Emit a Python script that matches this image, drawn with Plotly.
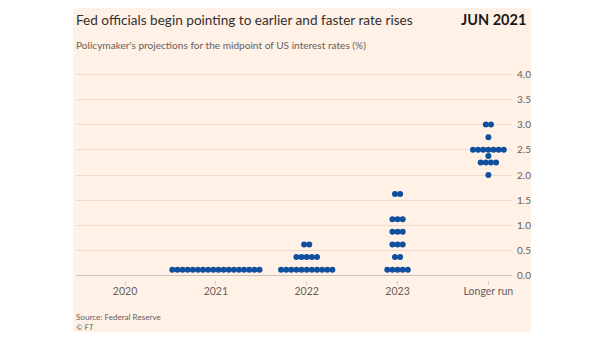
import plotly.graph_objects as go

# ---- data ----
years = ["2020", "2021", "2022", "2023", "Longer run"]
levels_2021 = [0.125]
counts_2021 = [18]
levels_2022 = [0.125, 0.375, 0.625]
counts_2022 = [11, 5, 2]
levels_2023 = [0.125, 0.375, 0.625, 0.875, 1.125, 1.625]
counts_2023 = [5, 2, 3, 3, 3, 2]
levels_lr = [2.0, 2.25, 2.375, 2.5, 2.75, 3.0]
counts_lr = [1, 4, 1, 7, 1, 2]
y_ticks = [0.0, 0.5, 1.0, 1.5, 2.0, 2.5, 3.0, 3.5, 4.0]

groups = [
    (1, levels_2021, counts_2021),
    (2, levels_2022, counts_2022),
    (3, levels_2023, counts_2023),
    (4, levels_lr, counts_lr),
]

# ---- layout geometry (pixels) ----
W, H = 605, 341
PL, PR, PT, PB = 76, 512, 70, 280
DOT_STEP = 0.0565  # horizontal spacing between stacked dots in category units

xs, ys = [], []
for xpos, levels, counts in groups:
    for lvl, n in zip(levels, counts):
        for i in range(n):
            xs.append(xpos + (i - (n - 1) / 2) * DOT_STEP)
            ys.append(lvl)

def px_x(p):
    return (p - PL) / (PR - PL)

def px_y(p):
    return (PB - p) / (PB - PT)

FONT = "Lato"
PEACH = "#FFF1E5"

fig = go.Figure()
fig.add_trace(go.Scatter(
    x=xs, y=ys, mode="markers",
    marker=dict(size=6, color="#0F4F9E", line=dict(width=0)),
    hoverinfo="skip", showlegend=False,
))

fig.add_shape(type="rect", xref="paper", yref="paper",
              x0=px_x(73), x1=px_x(531), y0=px_y(332), y1=px_y(8),
              fillcolor=PEACH, line=dict(width=0), layer="below")

ann = [
    dict(text="Fed officials begin pointing to earlier and faster rate rises",
         x=px_x(74), y=px_y(20), xanchor="left", yanchor="middle",
         font=dict(family=FONT, size=13.6, color="#33302E")),
    dict(text="<b>JUN 2021</b>",
         x=px_x(528), y=px_y(20), xanchor="right", yanchor="middle",
         font=dict(family=FONT, size=14.5, color="#1A1817")),
    dict(text="Policymaker's projections for the midpoint of US interest rates (%)",
         x=px_x(74), y=px_y(45), xanchor="left", yanchor="middle",
         font=dict(family=FONT, size=10.1, color="#66605C")),
    dict(text="Source: Federal Reserve",
         x=px_x(74), y=px_y(317), xanchor="left", yanchor="middle",
         font=dict(family=FONT, size=8.1, color="#66605C")),
    dict(text="<i>© FT</i>",
         x=px_x(74), y=px_y(327), xanchor="left", yanchor="middle",
         font=dict(family=FONT, size=8.1, color="#66605C")),
]
for a in ann:
    a.update(xref="paper", yref="paper", showarrow=False)
fig.update_layout(annotations=ann)

fig.update_layout(
    width=W, height=H,
    margin=dict(l=PL, r=W - PR, t=PT, b=H - PB, pad=0),
    paper_bgcolor="white", plot_bgcolor=PEACH,
    font=dict(family=FONT, color="#66605C"),
    xaxis=dict(
        range=[-0.54, 4.26], tickvals=list(range(len(years))), ticktext=years,
        showgrid=False, zeroline=False, showline=False,
        ticks="outside", ticklen=4, tickcolor="#D8CCC1",
        ticklabelstandoff=-3,
        tickfont=dict(size=10.5, color="#66605C"), fixedrange=True,
    ),
    yaxis=dict(
        range=[-0.08, 4.08], side="right", tickvals=y_ticks,
        tickformat=".1f", showgrid=True, gridcolor="#EFDCCC", gridwidth=1,
        zeroline=True, zerolinecolor="#CFC5BC", zerolinewidth=1,
        showline=False, ticks="", ticklabelstandoff=4,
        tickfont=dict(size=10, color="#66605C"), fixedrange=True,
    ),
)

fig.write_html("out.html")
